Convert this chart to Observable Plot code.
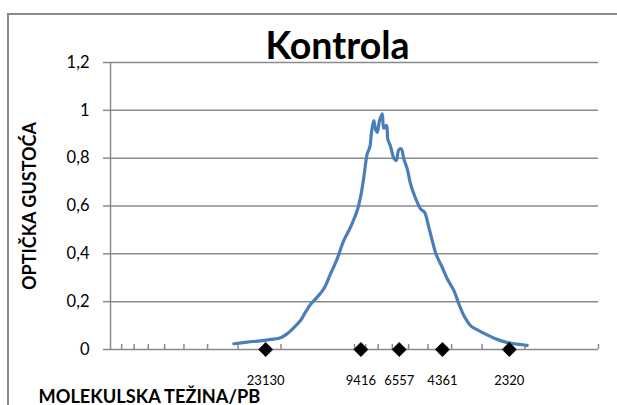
<!DOCTYPE html>
<html>
<head>
<meta charset="utf-8">
<script src="https://cdn.jsdelivr.net/npm/d3@7"></script>
<script src="https://cdn.jsdelivr.net/npm/@observablehq/plot@0.6"></script>
<style>
  html, body { margin: 0; padding: 0; background: #fff; }
  #wrap { position: relative; width: 617px; height: 405px; overflow: hidden; }
  #frame { position: absolute; left: 7px; top: 13px; width: 700px; height: 500px;
           border-left: 2px solid #8a8a8a; border-top: 2px solid #8a8a8a; pointer-events: none; }
</style>
</head>
<body>
<div id="wrap"><div id="frame"></div></div>
<script>
const titleText = "Kontrola";
const yLabel = "OPTIČKA GUSTOĆA";
const xLabel = "MOLEKULSKA TEŽINA/PB";

// densitometric profile (molecular weight in bp, optical density)
const curveMW = [31240, 27530, 24280, 22090, 20100, 18870, 17730, 16650, 15880, 15150,
  14220, 13360, 12540, 11770, 11060, 10390, 9748, 9449, 9159, 8870,
  8655, 8517, 8334, 8202, 8071, 7898, 7699, 7584, 7393, 7303,
  7119, 6901, 6746, 6583, 6435, 6279, 6081, 5895, 5714, 5534,
  5364, 5166, 4960, 4804, 4657, 4526, 4370, 4169, 3917, 3736,
  3564, 3346, 3094, 2859, 2643, 2405, 2224, 2055, 1960];
const curveOD = [0.024, 0.031, 0.036, 0.042, 0.049, 0.066, 0.091, 0.121, 0.156, 0.188,
  0.219, 0.254, 0.316, 0.380, 0.456, 0.511, 0.581, 0.637, 0.720, 0.818,
  0.846, 0.908, 0.957, 0.922, 0.908, 0.957, 0.985, 0.925, 0.937, 0.880,
  0.850, 0.800, 0.790, 0.835, 0.839, 0.797, 0.755, 0.693, 0.651, 0.616,
  0.588, 0.574, 0.511, 0.456, 0.405, 0.375, 0.344, 0.296, 0.247, 0.191,
  0.142, 0.100, 0.079, 0.061, 0.045, 0.031, 0.024, 0.020, 0.017];

// size-marker bands (bp)
const markerMW = [23130, 9416, 6557, 4361, 2320];

// axis ticks
const yTicks = [0, 0.2, 0.4, 0.6, 0.8, 1, 1.2];
const xMinorTicks = [90000, 80000, 70000, 60000, 50000, 40000, 30000, 20000, 10000,
  9000, 8000, 7000, 6000, 5000, 4000, 3000, 2000, 1000];
const xDomain = [100000, 1000];

const curve = curveMW.map((mw, i) => ({mw, od: curveOD[i]}));
const grid = "#8a8a8a";
const font = "Lato, 'Open Sans', sans-serif";

const chart = Plot.plot({
  width: 617,
  height: 405,
  marginLeft: 110,
  marginRight: 19,
  marginTop: 62,
  marginBottom: 56,
  style: {fontFamily: font, background: "transparent"},
  x: {type: "log", domain: xDomain, axis: null},
  y: {domain: [0, 1.2], axis: null},
  marks: [
    Plot.ruleY(yTicks, {stroke: grid, strokeWidth: 1.5}),
    Plot.ruleX([xDomain[0]], {y1: 0, y2: 1.2, stroke: grid, strokeWidth: 1.5}),
    Plot.tickX(xMinorTicks, {x: d => d, insetTop: 282, stroke: grid, strokeWidth: 1.5}),
    Plot.axisY({ticks: yTicks, tickSize: 7, tickPadding: 14, stroke: grid, strokeWidth: 1.5,
      tickFormat: d => String(d).replace(".", ","), fontSize: 16.5, label: null}),
    Plot.line(curve, {x: "mw", y: "od", stroke: "#4a7ebb", strokeWidth: 3.2, curve: "catmull-rom"}),
    Plot.dot(markerMW, {x: d => d, y: () => 0, symbol: "diamond2", r: 6.7, fill: "black", stroke: "none"}),
    Plot.text(markerMW, {x: d => d, y: () => 0, text: d => String(d), dy: 31, fontSize: 13, fill: "black"}),
    Plot.text([titleText], {frameAnchor: "top", dx: -17, dy: -4, lineAnchor: "bottom",
      fontSize: 37.5, fontWeight: "bold", fill: "black"}),
    Plot.text([yLabel], {frameAnchor: "left", dx: -80, rotate: -90, textAnchor: "middle",
      fontSize: 18, fontWeight: "bold", fill: "black"}),
    Plot.text([xLabel], {frameAnchor: "bottom-left", dx: -72, dy: 53, textAnchor: "start",
      lineAnchor: "bottom", fontSize: 18.2, fontWeight: "bold", fill: "black"})
  ]
});
document.getElementById("wrap").prepend(chart);
</script>
</body>
</html>
